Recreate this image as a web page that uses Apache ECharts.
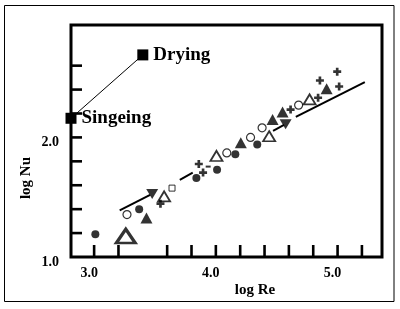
<!DOCTYPE html>
<html>
<head>
<meta charset="utf-8">
<script src="https://cdn.jsdelivr.net/npm/echarts@6/dist/echarts.min.js"></script>
<style>
  html, body { margin: 0; padding: 0; background: #fff; }
  #chart { width: 400px; height: 309px; }
</style>
</head>
<body>
<div id="chart"></div>
<script>
// axis ranges and ticks (log Re / log Nu)
const xMin = 2.81, xMax = 5.365;
const yMin = 1.0, yMax = 2.94;
const xTicks = [3.0, 3.2, 3.6, 3.8, 4.0, 4.2, 4.4, 4.6, 4.8, 5.0, 5.2];
const yTicks = [1.2, 1.4, 1.6, 1.8, 2.0, 2.2, 2.4, 2.6];
const xLabels = [3.0, 4.0, 5.0];
const yLabels = [1.0, 2.0];

// singeing -> drying
const processPts = [[2.81, 2.16], [3.4, 2.69]];
const processNames = ['Singeing', 'Drying'];

// measured points
const filledCircles = [[3.01, 1.19], [3.37, 1.40], [3.84, 1.66], [4.01, 1.73], [4.16, 1.86], [4.34, 1.94]];
const openCircles = [[3.27, 1.355], [4.09, 1.87], [4.285, 2.0], [4.38, 2.08], [4.68, 2.27]];
const filledTri = [[3.43, 1.327], [4.205, 1.955], [4.466, 2.15], [4.548, 2.213], [4.91, 2.407]];
const openTri = [[3.575, 1.507], [4.005, 1.845], [4.438, 2.01], [4.77, 2.318]];
const bigOpenTri = [[3.26, 1.175]];
const downTri = [[3.477, 1.527], [4.573, 2.11]];
const openSquare = [[3.64, 1.576]];
const plusPts = [[3.545, 1.446], [3.86, 1.778], [3.895, 1.706], [4.614, 2.233], [4.84, 2.332], [4.855, 2.476], [4.997, 2.55], [5.013, 2.426]];
const dashPts = [[3.937, 1.756]];
// correlation lines
const trendSegs = [
  [[3.21, 1.39], [3.46, 1.52]],
  [[3.704, 1.645], [3.81, 1.706]],
  [[4.47, 2.055], [4.56, 2.105]],
  [[4.657, 2.171], [5.224, 2.462]]
];

const serif = '"Liberation Serif", "Times New Roman", serif';
const plusPath = 'path://M3,0h3v3h3v3h-3v3h-3v-3h-3v-3h3z';

const chart = echarts.init(document.getElementById('chart'));

function scatter(data, extra) {
  return Object.assign({
    type: 'scatter',
    data: data,
    symbol: 'circle',
    symbolSize: 8,
    itemStyle: { color: '#000' },
    silent: true,
    z: 5
  }, extra);
}

const series = [
  {
    type: 'line',
    data: processPts.map((p, i) => ({ value: p, label: { formatter: processNames[i] } })),
    symbol: 'rect',
    symbolSize: 11,
    itemStyle: { color: '#000' },
    lineStyle: { color: '#000', width: 1 },
    label: {
      show: true,
      position: 'right',
      distance: 5,
      color: '#000',
      fontFamily: serif,
      fontWeight: 'bold',
      fontSize: 19
    },
    silent: true,
    z: 6
  },
  scatter(filledCircles),
  scatter(openCircles, { itemStyle: { color: '#fff', borderColor: '#000', borderWidth: 1.2 } }),
  scatter(filledTri, { symbol: 'triangle', symbolSize: [12, 11] }),
  scatter(openTri, { symbol: 'triangle', symbolSize: [12, 10], itemStyle: { color: '#fff', borderColor: '#000', borderWidth: 1.8 } }),
  scatter(bigOpenTri, { symbol: 'triangle', symbolSize: [19, 14], itemStyle: { color: '#fff', borderColor: '#000', borderWidth: 3 } }),
  scatter(downTri, { symbol: 'triangle', symbolRotate: 180, symbolSize: [12, 10] }),
  scatter(openSquare, { symbol: 'rect', symbolSize: 6, itemStyle: { color: '#fff', borderColor: '#000', borderWidth: 1 } }),
  scatter(plusPts, { symbol: plusPath, symbolSize: 8 }),
  scatter(dashPts, { symbol: 'rect', symbolSize: [5, 2] })
];

trendSegs.forEach(seg => {
  series.push({
    type: 'line',
    data: seg,
    symbol: 'none',
    lineStyle: { color: '#000', width: 2 },
    silent: true,
    z: 4
  });
});

// axis ticks pointing inward
series.push({
  type: 'custom',
  data: xTicks.map(v => [v, yMin]),
  renderItem: (params, api) => {
    const p = api.coord([api.value(0), api.value(1)]);
    return { type: 'line', shape: { x1: p[0], y1: p[1], x2: p[0], y2: p[1] - 12 }, style: { stroke: '#000', lineWidth: 2.6 } };
  },
  silent: true, z: 3
});
series.push({
  type: 'custom',
  data: yTicks.map(v => [xMin, v]),
  renderItem: (params, api) => {
    const p = api.coord([api.value(0), api.value(1)]);
    return { type: 'line', shape: { x1: p[0], y1: p[1], x2: p[0] + 11, y2: p[1] }, style: { stroke: '#000', lineWidth: 2.6 } };
  },
  silent: true, z: 3
});
// tick labels
series.push({
  type: 'custom',
  data: xLabels.map(v => [v, yMin]),
  renderItem: (params, api) => {
    const p = api.coord([api.value(0), api.value(1)]);
    return { type: 'text', x: p[0] - 5, y: p[1] + 16, style: { text: api.value(0).toFixed(1), font: 'bold 14px ' + serif, fill: '#000', align: 'center', verticalAlign: 'middle' } };
  },
  silent: true, z: 3
});
series.push({
  type: 'custom',
  data: yLabels.map(v => [xMin, v]),
  renderItem: (params, api) => {
    const p = api.coord([api.value(0), api.value(1)]);
    return { type: 'text', x: p[0] - 12, y: p[1] + 5, style: { text: api.value(1).toFixed(1), font: 'bold 14px ' + serif, fill: '#000', align: 'right', verticalAlign: 'middle' } };
  },
  silent: true, z: 3
});

const option = {
  animation: false,
  backgroundColor: '#fff',
  grid: {
    left: 71, top: 25, width: 311, height: 232,
    show: true,
    borderColor: '#000',
    borderWidth: 3
  },
  xAxis: {
    type: 'value', min: xMin, max: xMax,
    axisLine: { show: false }, axisTick: { show: false },
    axisLabel: { show: false }, splitLine: { show: false }
  },
  yAxis: {
    type: 'value', min: yMin, max: yMax,
    axisLine: { show: false }, axisTick: { show: false },
    axisLabel: { show: false }, splitLine: { show: false }
  },
  graphic: [
    {
      type: 'rect',
      shape: { x: 4.5, y: 5.5, width: 389.5, height: 296 },
      style: { fill: 'none', stroke: '#000', lineWidth: 1 },
      silent: true
    },
    {
      type: 'text',
      x: 255, y: 290,
      style: { text: 'log Re', font: 'bold 15px ' + serif, fill: '#000', align: 'center', verticalAlign: 'middle' }
    },
    {
      type: 'text',
      x: 26, y: 178, rotation: Math.PI / 2,
      style: { text: 'log Nu', font: 'bold 15px ' + serif, fill: '#000', align: 'center', verticalAlign: 'middle' }
    }
  ],
  series: series
};

chart.setOption(option);
</script>
</body>
</html>
